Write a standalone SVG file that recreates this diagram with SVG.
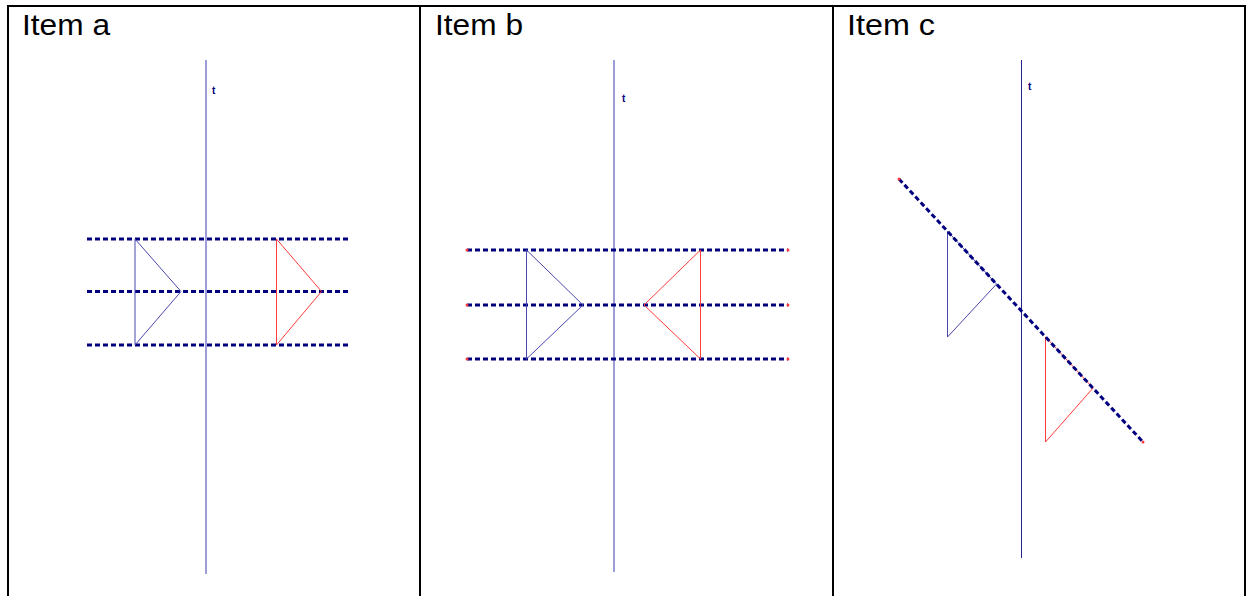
<svg xmlns="http://www.w3.org/2000/svg" width="1247" height="596" viewBox="0 0 1247 596">
<style>
.frame{stroke:#000;stroke-width:2;fill:none}
.title{font-family:"Liberation Sans",Arial,sans-serif;font-size:29px;fill:#000}
.axis{stroke:#3a3ab0;stroke-width:1;fill:none}
.axisd{stroke:#23238f;stroke-width:1;fill:none}
.tl{font-family:"Liberation Sans",Arial,sans-serif;font-size:10px;font-weight:bold;fill:#000080}
.dash{stroke:#000080;stroke-width:3;stroke-dasharray:5 3;fill:none}
.tb{stroke:#4848b0;stroke-width:1;fill:none}
.tr{stroke:#ff3b3b;stroke-width:1;fill:none}
.end{fill:#ff3b3b}
</style>
<rect width="1247" height="596" fill="#fff"/>
<g id="frame">
<line class="frame" x1="8" y1="6" x2="1246" y2="6"/>
<line class="frame" x1="8" y1="5" x2="8" y2="596"/>
<line class="frame" x1="420" y1="5" x2="420" y2="596"/>
<line class="frame" x1="833" y1="5" x2="833" y2="596"/>
<line class="frame" x1="1245" y1="5" x2="1245" y2="596"/>
</g>
<g id="panel-a">
<text class="title" x="22" y="35" textLength="88" lengthAdjust="spacingAndGlyphs">Item a</text>
<line class="axis" x1="206" y1="60" x2="206" y2="574"/>
<text class="tl" x="212" y="94">t</text>
</g>
<g id="panel-b">
<text class="title" x="435" y="35" textLength="88" lengthAdjust="spacingAndGlyphs">Item b</text>
<line class="axis" x1="614" y1="60" x2="614" y2="572"/>
<text class="tl" x="622" y="102">t</text>
</g>
<g id="panel-c">
<text class="title" x="847" y="35" textLength="88" lengthAdjust="spacingAndGlyphs">Item c</text>
<line class="axisd" x1="1021.5" y1="60" x2="1021.5" y2="558"/>
<text class="tl" x="1028" y="90">t</text>
</g>
<g id="connectors">
<line class="dash" x1="87" y1="239" x2="348" y2="239"/>
<line class="dash" x1="87" y1="291.5" x2="348" y2="291.5"/>
<line class="dash" x1="87" y1="345" x2="348" y2="345"/>
<polyline class="tb" points="135,239 181,291.5 135,345 135,239"/>
<polyline class="tr" points="276.5,239 321.5,291.5 276.5,345 276.5,239"/>
<line class="dash" x1="467" y1="250" x2="788" y2="250"/>
<line class="dash" x1="467" y1="305" x2="788" y2="305"/>
<line class="dash" x1="467" y1="359" x2="788" y2="359"/>
<circle class="end" cx="467" cy="250" r="1.5"/><circle class="end" cx="788" cy="250" r="1.5"/>
<circle class="end" cx="467" cy="305" r="1.5"/><circle class="end" cx="788" cy="305" r="1.5"/>
<circle class="end" cx="467" cy="359" r="1.5"/><circle class="end" cx="788" cy="359" r="1.5"/>
<polyline class="tb" points="526.5,250 583,305 526.5,359 526.5,250"/>
<polyline class="tr" points="700.5,250 644,305 700.5,359 700.5,250"/>
<polyline class="tb" points="947.5,231.3 996.5,284.1 947.5,337 947.5,231.3"/>
<polyline class="tr" points="1045.5,336.9 1093,388.1 1045.5,442 1045.5,336.9"/>
<line class="dash" x1="899" y1="179" x2="1143" y2="442"/>
<circle class="end" cx="899" cy="179" r="1.5"/><circle class="end" cx="1143" cy="442" r="1.5"/>
</g>
</svg>
